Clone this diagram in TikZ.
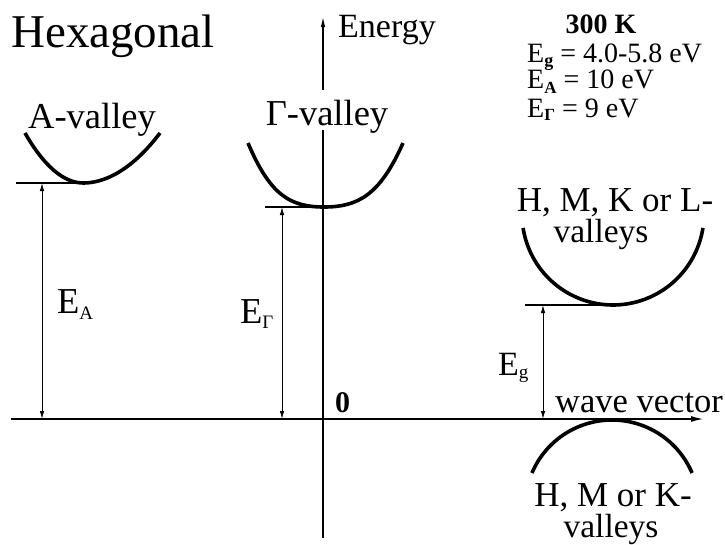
\documentclass[tikz,border=0pt]{standalone}
\usepackage{fontspec}
\setmainfont{Liberation Serif}
\usetikzlibrary{arrows.meta}
\newcommand{\esub}[3]{\raisebox{-#1pt}{\fontsize{#2}{#2}\selectfont #3}}
\tikzset{
  lbl/.style={inner sep=0pt, font=\fontsize{36.5}{30}\selectfont},
  info/.style={inner sep=0pt, anchor=base west, font=\fontsize{28}{28}\selectfont},
  firstline/.style={font=\fontsize{35}{30}\selectfont},
  secondline/.style={font=\fontsize{33.5}{30}\selectfont},
  curve/.style={line width=3.6pt},
  level/.style={line width=1.2pt},
  dim/.style={line width=0.9pt, {Latex[length=8pt,width=4.5pt]}-{Latex[length=8pt,width=4.5pt]}},
  axis/.style={line width=1.1pt},
}
\begin{document}
\begin{tikzpicture}[x=1pt,y=-1pt]
\useasboundingbox (0,0) rectangle (725,544);

% title
\node[lbl, anchor=base west, font=\fontsize{47}{47}\selectfont] (hex) at (11,47) {Hexagonal};

% axes
\coordinate (hl) at (11,419);
\coordinate (hr) at (703,419);
\coordinate (vb) at (323,538);
\coordinate (vgb) at (323,130);
\coordinate (vgt) at (323,90);
\coordinate (vt) at (323,17);
\draw[axis, -{Latex[length=12pt,width=6pt]}] (hl) -- (hr);
\draw[axis] (vb) -- (vgb);
\draw[axis, -{Latex[length=10pt,width=4.5pt]}] (vgt) -- (vt);

\node[lbl, anchor=base west, font=\fontsize{34}{34}\selectfont] (energy) at (338,37) {Energy};
\node[lbl, anchor=base west, font=\fontsize{34.5}{34.5}\selectfont] (wave) at (555,412) {wave vector};
\node[lbl, anchor=base west, font=\fontsize{30}{30}\selectfont\bfseries] (zero) at (335,412) {0};

% info block
\node[inner sep=0pt, anchor=base, font=\fontsize{28}{28}\selectfont\bfseries] (temp) at (601,33) {300 K};
\node[info] (ig) at (527,62) {E\esub{4}{18}{\bfseries g} = 4.0-5.8 eV};
\node[info] (ia) at (527,88) {E\esub{5}{17}{\bfseries A} = 10 eV};
\node[info] (iG) at (527,117) {E\esub{3}{17}{\bfseries Γ} = 9 eV};

% A-valley
\node[lbl, anchor=base] (alab) at (92,128) {A-valley};
\draw[curve] (25,133) parabola bend (83,183) (160,133);
\coordinate (alev0) at (16,183);
\coordinate (alev1) at (83,183);
\draw[level] (alev0) -- (alev1);
\coordinate (atop) at (42,183);
\coordinate (abot) at (42,419);
\draw[dim] (atop) -- (abot);
\node[lbl, anchor=base west] (ea) at (57,313) {E\esub{6}{19}{A}};

% Gamma-valley
\node[lbl, anchor=base] (glab) at (327,125) {Γ-valley};
\draw[curve] (248,143) .. controls (270,195) and (290,207) .. (324,207)
             .. controls (358,207) and (380,195) .. (403,143);
\coordinate (glev0) at (265,207);
\coordinate (glev1) at (324,207);
\draw[level] (glev0) -- (glev1);
\coordinate (gtop) at (282,207);
\coordinate (gbot) at (282,419);
\draw[dim] (gtop) -- (gbot);
\node[lbl, anchor=base west] (eG) at (240,323) {E\esub{5}{19}{Γ}};

% H, M, K or L valleys
\node[lbl, firstline, anchor=base] (hl1) at (615,211) {H, M, K or L-};
\node[lbl, secondline, anchor=base] (hl2) at (601,242) {valleys};
\draw[curve] plot[domain=8.8:171.2, samples=60] ({613+91*cos(\x)},{214+91*sin(\x)});
\coordinate (hlev0) at (525,305);
\coordinate (hlev1) at (613,305);
\draw[level] (hlev0) -- (hlev1);
\coordinate (htop) at (543,305);
\coordinate (hbot) at (543,419);
\draw[dim] (htop) -- (hbot);
\node[lbl, anchor=base west, font=\fontsize{34}{34}\selectfont] (eg) at (498,375) {E\esub{3}{19}{g}};

% valence H, M or K valleys
\draw[curve] plot[domain=-157:-23, samples=60] ({612+87*cos(\x)},{507+87*sin(\x)});
\node[lbl, firstline, anchor=base] (hv1) at (613,506) {H, M or K-};
\node[lbl, secondline, anchor=base] (hv2) at (611,537) {valleys};
\end{tikzpicture}
\end{document}
